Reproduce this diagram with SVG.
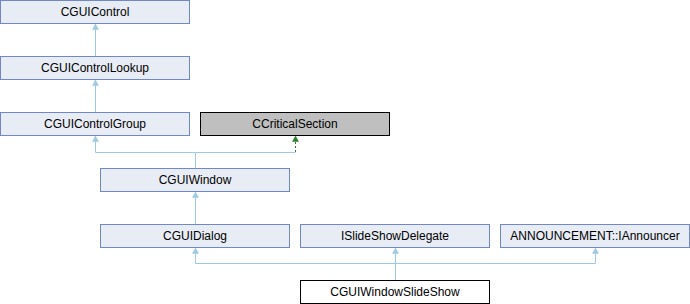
<svg xmlns="http://www.w3.org/2000/svg" width="690" height="304" viewBox="0 0 690 304">
  <defs>
    <style>
      .node rect { stroke-width: 1; }
      .cls rect { fill: #E8ECF5; stroke: #7089C6; }
      .ext rect { fill: #BFBFBF; stroke: #000000; }
      .cur rect { fill: #FFFFFF; stroke: #000000; }
      text { font-family: "Liberation Sans", Arial, sans-serif; font-size: 12px; fill: #000000; text-anchor: middle; }
      .pub { stroke: #9CC9E6; stroke-width: 1; fill: none; }
      .prot { stroke: #2F7A2F; stroke-width: 1; fill: none; stroke-dasharray: 2,2; }
    </style>
    <marker id="arrPub" viewBox="0 0 7 6" refX="3.5" refY="0" markerWidth="7" markerHeight="6" markerUnits="userSpaceOnUse" orient="0">
      <path d="M0.5,5.5 L3.5,0 L6.5,5.5 Z" fill="#9CC9E6" stroke="#9CC9E6" stroke-width="0.5"/>
    </marker>
    <marker id="arrProt" viewBox="0 0 7 6" refX="3.5" refY="0" markerWidth="7" markerHeight="6" markerUnits="userSpaceOnUse" orient="0">
      <path d="M0.5,5.5 L3.5,0 L6.5,5.5 Z" fill="#2F7A2F" stroke="#2F7A2F" stroke-width="0.5"/>
    </marker>
  </defs>

  <!-- inheritance connectors -->
  <g id="edges">
    <path class="pub" d="M95.5,56.5 V24" marker-end="url(#arrPub)"/>
    <path class="pub" d="M95.5,112.5 V80" marker-end="url(#arrPub)"/>
    <path class="pub" d="M195.5,168.5 V152.5 H95.5 V136" marker-end="url(#arrPub)"/>
    <path class="pub" d="M195.5,152.5 H295.5"/>
    <path class="prot" d="M295.5,152 V136" marker-end="url(#arrProt)"/>
    <path class="pub" d="M195.5,224.5 V192" marker-end="url(#arrPub)"/>
    <path class="pub" d="M395.5,280.5 V263.5 H195.5 V248" marker-end="url(#arrPub)"/>
    <path class="pub" d="M395.5,263.5 V248" marker-end="url(#arrPub)"/>
    <path class="pub" d="M395.5,263.5 H595.5 V248" marker-end="url(#arrPub)"/>
  </g>

  <g id="CGUIControl" class="node cls">
    <rect x="0.5" y="0.5" width="189" height="23"/>
    <text x="95" y="16">CGUIControl</text>
  </g>
  <g id="CGUIControlLookup" class="node cls">
    <rect x="0.5" y="56.5" width="189" height="23"/>
    <text x="95" y="72">CGUIControlLookup</text>
  </g>
  <g id="CGUIControlGroup" class="node cls">
    <rect x="0.5" y="112.5" width="189" height="23"/>
    <text x="95" y="128">CGUIControlGroup</text>
  </g>
  <g id="CCriticalSection" class="node ext">
    <rect x="200.5" y="112.5" width="189" height="23"/>
    <text x="295" y="128">CCriticalSection</text>
  </g>
  <g id="CGUIWindow" class="node cls">
    <rect x="100.5" y="168.5" width="189" height="23"/>
    <text x="195" y="184">CGUIWindow</text>
  </g>
  <g id="CGUIDialog" class="node cls">
    <rect x="100.5" y="224.5" width="189" height="23"/>
    <text x="195" y="240">CGUIDialog</text>
  </g>
  <g id="ISlideShowDelegate" class="node cls">
    <rect x="300.5" y="224.5" width="189" height="23"/>
    <text x="395" y="240">ISlideShowDelegate</text>
  </g>
  <g id="IAnnouncer" class="node cls">
    <rect x="500.5" y="224.5" width="189" height="23"/>
    <text x="595" y="240">ANNOUNCEMENT::IAnnouncer</text>
  </g>
  <g id="CGUIWindowSlideShow" class="node cur">
    <rect x="300.5" y="280.5" width="189" height="23"/>
    <text x="395" y="296">CGUIWindowSlideShow</text>
  </g>
</svg>
